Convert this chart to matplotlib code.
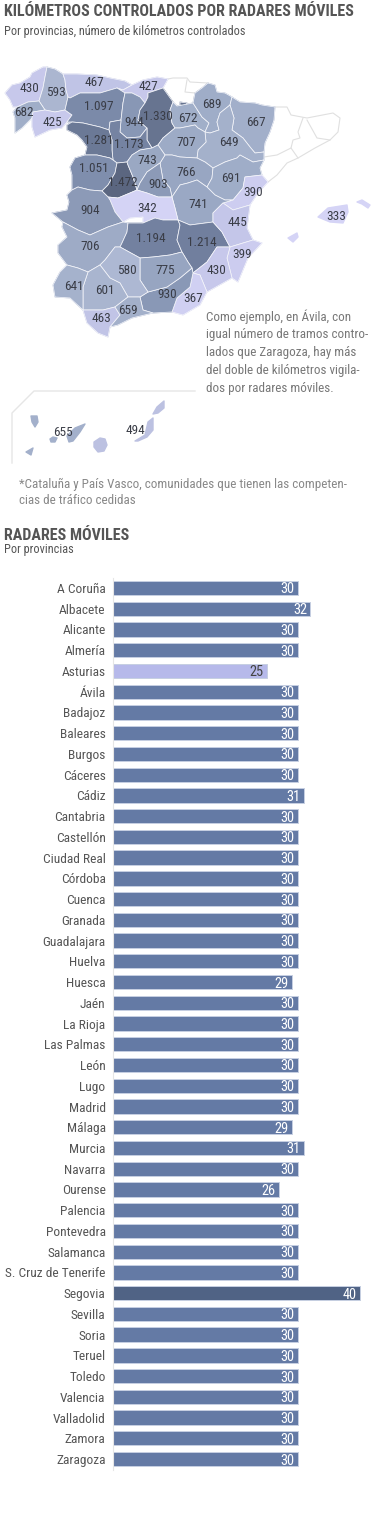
import matplotlib
matplotlib.use("Agg")
import matplotlib.pyplot as plt
from matplotlib.colors import LinearSegmentedColormap, Normalize
from matplotlib.patches import Polygon
from matplotlib import font_manager

W, H = 375, 1528

# pick the narrowest family that is there
names = {f.name for f in font_manager.fontManager.ttflist}
FONT = "Roboto"
for n in ["Roboto Condensed", "Liberation Sans Narrow", "Roboto"]:
    if n in names:
        FONT = n
        break
plt.rcParams['font.family'] = [FONT, 'DejaVu Sans']

# bar chart data
provincias = ["A Coruña", "Albacete", "Alicante", "Almería", "Asturias", "Ávila", "Badajoz",
              "Baleares", "Burgos", "Cáceres", "Cádiz", "Cantabria", "Castellón", "Ciudad Real",
              "Córdoba", "Cuenca", "Granada", "Guadalajara", "Huelva", "Huesca", "Jaén",
              "La Rioja", "Las Palmas", "León", "Lugo", "Madrid", "Málaga", "Murcia", "Navarra",
              "Ourense", "Palencia", "Pontevedra", "Salamanca", "S. Cruz de Tenerife", "Segovia",
              "Sevilla", "Soria", "Teruel", "Toledo", "Valencia", "Valladolid", "Zamora", "Zaragoza"]
radares = [30, 32, 30, 30, 25, 30, 30, 30, 30, 30, 31, 30, 30, 30, 30, 30, 30, 30, 30, 29, 30,
           30, 30, 30, 30, 30, 29, 31, 30, 26, 30, 30, 30, 30, 40, 30, 30, 30, 30, 30, 30, 30, 30]
# the Ourense bar is drawn longer than its label says
largo_barra = list(radares)
largo_barra[provincias.index("Ourense")] = 26.9

# map data: kilometres and outlines (pixels)
km = {
    "A Coruña": 430, "Lugo": 593, "Asturias": 467, "Cantabria": 427, "Pontevedra": 682,
    "Ourense": 425, "León": 1097, "Palencia": 944, "Burgos": 1330, "La Rioja": 672,
    "Navarra": 689, "Huesca": 667, "Zamora": 1281, "Valladolid": 1173, "Soria": 707,
    "Zaragoza": 649, "Segovia": 743, "Salamanca": 1051, "Ávila": 1472, "Madrid": 903,
    "Guadalajara": 766, "Teruel": 691, "Castellón": 390, "Cáceres": 904, "Toledo": 342,
    "Cuenca": 741, "Valencia": 445, "Badajoz": 706, "Ciudad Real": 1194, "Albacete": 1214,
    "Alicante": 399, "Córdoba": 580, "Jaén": 775, "Murcia": 430, "Huelva": 641,
    "Sevilla": 601, "Granada": 930, "Almería": 367, "Málaga": 659, "Cádiz": 463,
    "Baleares": 333, "S. Cruz de Tenerife": 655, "Las Palmas": 494,
}
contornos = {
    "A Coruña": [[(5, 93), (12, 85), (20, 83), (30, 77), (32, 73), (43, 67), (47, 67), (45, 77), (43, 88), (39, 101), (28, 102), (17, 107), (13, 107), (10, 100)]],
    "Lugo": [[(47, 67), (55, 69), (63, 74), (65, 80), (66, 90), (68, 97), (65, 110), (55, 112), (45, 110), (39, 101), (43, 88), (45, 77)]],
    "Pontevedra": [[(39, 101), (28, 102), (17, 107), (13, 112), (15, 118), (15, 133), (22, 128), (32, 118), (33, 112), (45, 110)]],
    "Ourense": [[(33, 112), (45, 110), (55, 112), (65, 110), (72, 115), (67, 122), (62, 128), (50, 130), (35, 137), (32, 127), (32, 118)]],
    "Asturias": [[(63, 74), (77, 74), (97, 75), (110, 78), (125, 81), (132, 85), (123, 90), (117, 88), (100, 93), (80, 93), (70, 98), (68, 97), (66, 90), (65, 80)]],
    "Cantabria": [[(132, 85), (143, 80), (157, 77), (168, 79), (163, 88), (157, 90), (148, 93), (148, 97), (145, 103), (140, 97), (132, 93), (125, 93), (117, 88), (123, 90)]],
    "León": [[(70, 98), (80, 93), (100, 93), (117, 88), (125, 93), (123, 103), (121, 120), (110, 122), (109, 130), (100, 127), (83, 123), (72, 122), (67, 122), (72, 115), (65, 110), (68, 97)]],
    "Palencia": [[(125, 93), (132, 93), (140, 97), (145, 103), (140, 110), (138, 120), (147, 128), (140, 137), (127, 138), (120, 132), (121, 120), (123, 103)]],
    "Burgos": [[(148, 93), (157, 90), (163, 88), (168, 95), (173, 102), (170, 110), (172, 123), (175, 128), (163, 138), (158, 145), (152, 148), (147, 140), (147, 128), (138, 120), (140, 110), (145, 103), (148, 97)],
               [(180, 102), (187, 103), (186, 106), (180, 105)]],
    "La Rioja": [[(172, 123), (170, 110), (173, 102), (177, 106), (193, 103), (202, 117), (209, 123), (205, 132), (198, 128), (195, 125), (180, 128), (175, 128)]],
    "Navarra": [[(208, 83), (215, 85), (217, 92), (225, 93), (232, 97), (230, 105), (220, 113), (217, 122), (219, 130), (210, 133), (205, 132), (209, 123), (202, 117), (193, 103), (195, 93), (202, 88)]],
    "Huesca": [[(232, 97), (240, 102), (255, 103), (262, 105), (275, 107), (274, 120), (270, 132), (265, 143), (264, 152), (255, 153), (250, 147), (243, 138), (232, 130), (234, 118), (230, 105)]],
    "Zaragoza": [[(219, 130), (217, 122), (220, 113), (230, 105), (234, 118), (232, 130), (243, 138), (250, 147), (255, 153), (264, 152), (264, 160), (253, 162), (240, 155), (237, 158), (225, 162), (213, 168), (205, 162), (197, 158), (198, 150), (206, 142), (205, 132), (210, 133)]],
    "Soria": [[(175, 128), (180, 128), (195, 125), (198, 128), (205, 132), (206, 142), (198, 150), (197, 158), (180, 157), (172, 155), (165, 155), (158, 145), (163, 138)]],
    "Guadalajara": [[(165, 155), (172, 155), (180, 157), (197, 158), (205, 162), (213, 168), (212, 178), (207, 187), (197, 180), (188, 183), (180, 185), (172, 197), (170, 188), (163, 180), (160, 163)]],
    "Teruel": [[(213, 168), (225, 162), (237, 158), (240, 155), (253, 162), (264, 160), (260, 168), (262, 175), (245, 177), (243, 188), (233, 200), (225, 200), (215, 195), (207, 187), (212, 178)]],
    "Castellón": [[(245, 177), (262, 175), (268, 182), (258, 193), (250, 205), (233, 210), (223, 203), (233, 200), (243, 188)]],
    "Valladolid": [[(110, 122), (121, 120), (120, 132), (127, 138), (140, 137), (147, 128), (147, 140), (152, 148), (140, 150), (132, 155), (127, 162), (117, 163), (113, 160), (112, 150), (112, 140), (109, 130)]],
    "Zamora": [[(67, 125), (72, 122), (83, 123), (100, 127), (109, 130), (112, 140), (112, 150), (113, 160), (110, 158), (97, 155), (85, 155), (87, 147), (82, 140), (77, 135), (67, 130)]],
    "Salamanca": [[(85, 155), (97, 155), (110, 158), (113, 160), (117, 163), (115, 173), (108, 185), (102, 191), (90, 190), (78, 187), (72, 190), (72, 175), (70, 167), (75, 158)]],
    "Ávila": [[(117, 163), (127, 162), (128, 165), (133, 177), (137, 190), (130, 193), (118, 198), (108, 197), (102, 191), (108, 185), (115, 173)]],
    "Segovia": [[(127, 162), (132, 155), (140, 150), (152, 148), (158, 145), (165, 155), (160, 163), (147, 172), (140, 183), (137, 190), (133, 177), (128, 165)]],
    "Madrid": [[(160, 163), (163, 180), (170, 188), (172, 197), (158, 197), (147, 193), (137, 190), (140, 183), (147, 172)]],
    "Cuenca": [[(172, 197), (180, 185), (188, 183), (197, 180), (207, 187), (215, 195), (225, 200), (233, 200), (223, 203), (213, 213), (213, 222), (190, 225), (178, 220), (175, 208)]],
    "Toledo": [[(108, 197), (118, 198), (130, 193), (137, 190), (147, 193), (158, 197), (172, 197), (175, 208), (178, 220), (163, 220), (155, 218), (143, 223), (143, 217), (130, 218), (123, 222), (115, 212), (110, 200)]],
    "Cáceres": [[(67, 195), (72, 190), (78, 187), (90, 190), (102, 191), (108, 197), (110, 200), (115, 212), (123, 222), (108, 227), (90, 235), (78, 230), (63, 222), (52, 213), (67, 210), (69, 202)]],
    "Badajoz": [[(63, 222), (78, 230), (90, 235), (108, 227), (123, 222), (128, 223), (127, 232), (122, 243), (120, 247), (115, 247), (105, 260), (100, 265), (88, 272), (78, 268), (67, 265), (58, 253), (58, 245), (67, 237), (62, 227)]],
    "Ciudad Real": [[(128, 223), (143, 223), (155, 218), (163, 220), (178, 220), (180, 225), (177, 240), (182, 252), (170, 255), (153, 257), (140, 258), (120, 247), (122, 243), (127, 232)]],
    "Albacete": [[(178, 220), (190, 225), (213, 222), (222, 232), (230, 247), (217, 247), (207, 262), (193, 273), (192, 268), (188, 262), (182, 252), (177, 240), (180, 225)]],
    "Valencia": [[(223, 203), (233, 210), (250, 205), (247, 228), (253, 240), (230, 247), (222, 232), (213, 222), (213, 213)]],
    "Alicante": [[(230, 247), (253, 240), (262, 243), (248, 258), (238, 282), (232, 278), (227, 258)]],
    "Murcia": [[(217, 247), (230, 247), (227, 258), (232, 278), (207, 292), (200, 275), (193, 273), (207, 262)]],
    "Almería": [[(193, 273), (200, 275), (207, 292), (200, 305), (183, 315), (172, 312), (177, 298), (190, 287)]],
    "Granada": [[(140, 297), (148, 292), (167, 287), (180, 278), (192, 268), (193, 273), (190, 287), (177, 298), (172, 312), (153, 313), (143, 310)]],
    "Jaén": [[(140, 258), (153, 257), (170, 255), (182, 252), (188, 262), (192, 268), (180, 278), (167, 287), (148, 292), (140, 280)]],
    "Córdoba": [[(105, 260), (115, 247), (120, 247), (140, 258), (140, 280), (148, 292), (140, 297), (128, 297), (120, 283), (110, 278), (100, 265)]],
    "Sevilla": [[(88, 272), (100, 265), (110, 278), (120, 283), (128, 297), (115, 307), (103, 310), (83, 310), (83, 287)]],
    "Huelva": [[(53, 285), (60, 272), (67, 265), (78, 268), (88, 272), (83, 287), (83, 310), (70, 298), (55, 297)]],
    "Cádiz": [[(83, 310), (103, 310), (115, 307), (120, 315), (110, 327), (108, 337), (98, 333), (87, 323)]],
    "Málaga": [[(115, 307), (128, 297), (140, 297), (143, 310), (153, 313), (132, 318), (118, 325), (110, 327), (120, 315)]],
    "Baleares": [[(318, 217), (328, 208), (347, 205), (348, 212), (343, 223), (330, 222)],
                 [(357, 202), (362, 200), (370, 205), (368, 208), (362, 204)],
                 [(288, 238), (297, 233), (298, 237), (293, 242)]],
    "S. Cruz de Tenerife": [[(67, 436), (75, 428), (85, 424), (80, 432), (73, 441), (69, 442)],
                            [(31, 416), (37, 416), (38, 422), (35, 427), (32, 422)],
                            [(50, 439), (53, 437), (57, 438), (55, 442), (51, 442)],
                            [(26, 452), (33, 448), (31, 455)]],
    "Las Palmas": [[(94, 442), (100, 438), (105, 439), (107, 445), (104, 451), (98, 452), (94, 447)],
                   [(135, 441), (145, 435), (148, 422), (153, 418), (153, 430), (147, 437), (138, 441)],
                   [(153, 414), (157, 407), (164, 401), (164, 408), (158, 413)]],
}
etiquetas = {
    "A Coruña": (29, 89), "Lugo": (56, 93), "Asturias": (94, 83), "Cantabria": (148, 86),
    "Pontevedra": (24, 113), "Ourense": (52, 123), "León": (99, 107), "Palencia": (134, 123),
    "Burgos": (158, 117), "La Rioja": (188, 118), "Navarra": (212, 105), "Huesca": (256, 123),
    "Zamora": (99, 141), "Valladolid": (129, 144), "Soria": (186, 143), "Zaragoza": (229, 143),
    "Segovia": (147, 161), "Salamanca": (94, 168), "Ávila": (123, 182), "Madrid": (158, 184),
    "Guadalajara": (186, 173), "Teruel": (231, 179), "Castellón": (253, 193), "Cáceres": (90, 211),
    "Toledo": (147, 208), "Cuenca": (198, 205), "Valencia": (237, 223), "Badajoz": (90, 246),
    "Ciudad Real": (151, 239), "Albacete": (202, 242), "Alicante": (242, 255), "Córdoba": (127, 271),
    "Jaén": (165, 270), "Murcia": (216, 271), "Huelva": (74, 286), "Sevilla": (105, 290),
    "Granada": (167, 294), "Almería": (193, 298), "Málaga": (128, 311), "Cádiz": (101, 319),
    "Baleares": (336, 217), "S. Cruz de Tenerife": (63, 433), "Las Palmas": (135, 430),
}
# white communities, only the outline is drawn
lineas_blancas = [
    [(275, 107), (287, 107), (291, 115), (307, 118), (333, 113), (340, 118), (338, 132), (330, 140), (315, 148), (298, 158), (287, 163), (277, 175), (268, 182)],
    [(303, 118), (298, 132), (300, 138), (293, 140), (291, 148), (298, 158)],
    [(291, 148), (277, 155), (264, 157)],
    [(307, 120), (317, 138), (330, 140)],
    [(168, 79), (173, 78), (187, 78), (190, 82), (208, 83), (202, 88), (195, 93), (193, 103), (177, 106), (173, 102), (168, 95), (163, 88)],
    [(187, 80), (185, 92), (195, 93)],
]
marco_canarias = [(12, 463), (12, 413), (34, 391), (195, 391)]
islas = ("Baleares", "S. Cruz de Tenerife", "Las Palmas")

texto_nota = ["Como ejemplo, en Ávila, con", "igual número de tramos contro-",
              "lados que Zaragoza, hay más", "del doble de kilómetros vigila-",
              "dos por radares móviles."]
texto_pie = ["*Cataluña y País Vasco, comunidades que tienen las competen-",
             "cias de tráfico cedidas"]

escala = LinearSegmentedColormap.from_list("km", [
    (0.0, "#d5d4f6"), (0.1, "#c4c6e9"), (0.23, "#aab6d0"), (0.33, "#9dabc6"),
    (0.65, "#7d8cab"), (0.8, "#6f7d9b"), (1.0, "#5b6680")])
norma = Normalize(333, 1472)


def color_barra(v):
    if v <= 25:
        return "#b6b9ea"
    if v >= 40:
        return "#506385"
    return "#647aa5"


def draw_map(ax):
    # first pass closes the small gaps between traced outlines
    for nombre, partes in contornos.items():
        c = escala(norma(km[nombre]))
        for parte in partes:
            grosor = 1.0 if nombre in islas else 0.6
            ax.add_patch(Polygon(parte, closed=True, facecolor=c, edgecolor=c, linewidth=grosor,
                                 joinstyle="round", zorder=1))
    for nombre, partes in contornos.items():
        if nombre in islas:
            continue
        c = escala(norma(km[nombre]))
        for parte in partes:
            ax.add_patch(Polygon(parte, closed=True, facecolor=c, edgecolor="#f4f5fa", linewidth=0.55,
                                 joinstyle="round", zorder=2))
    for linea in lineas_blancas:
        ax.plot([p[0] for p in linea], [p[1] for p in linea], color="#e0e0e0", lw=0.8, zorder=0)
    ax.plot([p[0] for p in marco_canarias], [p[1] for p in marco_canarias], color="#e6e6e6", lw=1)
    for nombre, (x, y) in etiquetas.items():
        txt = f"{km[nombre]:,}".replace(",", ".")
        ax.text(x, y, txt, ha="center", va="center", fontsize=9.5, color="#3a3d47", zorder=3)


def draw_texts(ax):
    ax.text(4, 12, "KILÓMETROS CONTROLADOS POR RADARES MÓVILES", fontsize=11.55, fontweight="bold",
            color="#555555", va="center")
    ax.text(4, 31, "Por provincias, número de kilómetros controlados", fontsize=8.8,
            color="#555555", va="center")
    for i, t in enumerate(texto_nota):
        ax.text(206, 316.5 + i * 18, t, fontsize=9.4, color="#777777", va="center")
    for i, t in enumerate(texto_pie):
        ax.text(19, 484 + i * 17, t, fontsize=9.4, color="#888888", va="center")
    ax.text(4, 535, "RADARES MÓVILES", fontsize=11.55, fontweight="bold", color="#555555", va="center")
    ax.text(4, 549, "Por provincias", fontsize=8.8, color="#555555", va="center")


def draw_bars(fig):
    # 6.18 px per radar, 20.74 px per row, first row centred on y=588
    top, bottom = 577.6, 1469.5
    left = 112.5
    ax = fig.add_axes([left / W, 1 - bottom / H, (W - left) / W, (bottom - top) / H])
    ax.set_xlim(0, (W - left) / 6.18)
    ax.set_ylim((bottom - 588) / 20.74, (top - 588) / 20.74)
    pos = list(range(len(provincias)))
    ax.barh(pos, largo_barra, height=0.69, color=[color_barra(v) for v in radares],
            edgecolor="#c6cfe2", linewidth=0.7)
    for i, v, b in zip(pos, radares, largo_barra):
        ax.text(b - 0.5, i + 0.07, str(v), ha="right", va="center", fontsize=10.4,
                color="white" if v > 25 else "#444444")
    ax.set_yticks(pos, provincias)
    ax.tick_params(axis="y", length=0, pad=5, labelsize=9.6, labelcolor="#555555")
    ax.set_xticks([])
    for s in ["top", "right", "bottom"]:
        ax.spines[s].set_visible(False)
    ax.spines["left"].set_color("#e6e6e6")
    ax.patch.set_visible(False)


fig = plt.figure(figsize=(W / 100, H / 100), dpi=100)
base = fig.add_axes([0, 0, 1, 1])
base.set_xlim(0, W)
base.set_ylim(H, 0)
base.axis("off")
draw_map(base)
draw_texts(base)
draw_bars(fig)
fig.savefig("out.png", dpi=100)
plt.close()
